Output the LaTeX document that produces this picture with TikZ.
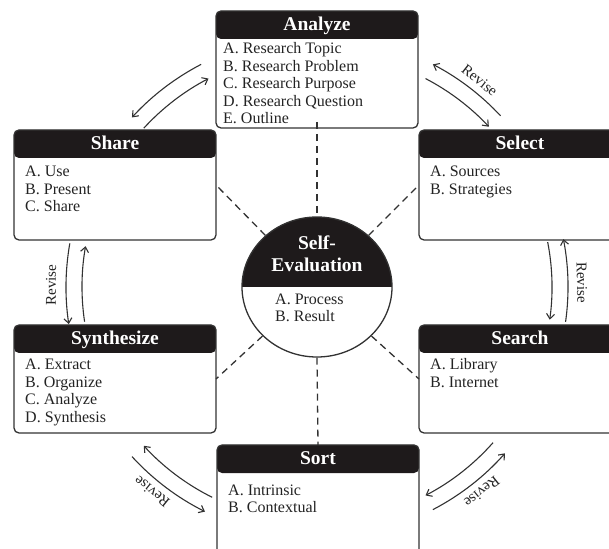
\documentclass[tikz,border=0pt]{standalone}
\usepackage{fontspec}
\setmainfont{Liberation Serif}
\usetikzlibrary{arrows.meta,shapes.geometric}
\definecolor{hdr}{RGB}{30,26,27}
\definecolor{edgec}{RGB}{50,50,50}
\definecolor{txt}{RGB}{35,35,35}
\begin{document}
\begin{tikzpicture}[x=1pt,y=1pt,
 box/.style={draw=edgec, line width=1.3pt, rounded corners=5pt, minimum width=202pt, inner sep=0pt, outer sep=0pt,
   path picture={\fill[hdr] ([yshift=2pt]path picture bounding box.north west) rectangle ([yshift=-28pt]path picture bounding box.north east);}},
 hdrtext/.style={text=white, font=\fontsize{19.5}{22}\selectfont\bfseries, anchor=base, inner sep=0pt, align=center},
 body/.style={text=txt, font=\fontsize{16}{17.5}\selectfont, anchor=base west, align=left, inner sep=0pt},
 arr/.style={draw=edgec, line width=1.1pt, -{Straight Barb[length=5pt,width=8pt]}},
 dline/.style={draw=edgec, line width=1.3pt, dash pattern=on 7pt off 5pt},
 rev/.style={text=txt, font=\fontsize{15}{15}\selectfont, inner sep=0pt}]
\useasboundingbox (0,0) rectangle (609,548);
\clip (0,0) rectangle (609,548);

\coordinate (c) at (317,261);

% boxes
\node[box, minimum height=117pt] (ana) at (317,478.5) {};
\node[box, minimum height=110pt] (share) at (115,363) {};
\node[box, minimum height=110pt] (select) at (520,363) {};
\node[box, minimum height=108pt] (synth) at (115,169) {};
\node[box, minimum height=108pt] (search) at (520,169) {};
\node[box, minimum height=110pt] (sort) at (318,48) {};

% headers
\node[hdrtext] (anah) at ([yshift=-20pt]ana.north) {Analyze};
\node[hdrtext] (shareh) at ([yshift=-20pt]share.north) {Share};
\node[hdrtext] (selecth) at ([yshift=-20pt]select.north) {Select};
\node[hdrtext] (synthh) at ([yshift=-20pt]synth.north) {Synthesize};
\node[hdrtext] (searchh) at ([yshift=-20pt]search.north) {Search};
\node[hdrtext] (sorth) at ([yshift=-20pt]sort.north) {Sort};

% bodies (anchor = baseline of the last line)
\node[body] (anab) at (223,424) {A. Research Topic\\B. Research Problem\\C. Research Purpose\\D. Research Question\\E. Outline};
\node[body] (shareb) at (25,336.3) {A. Use\\B. Present\\C. Share};
\node[body] (selectb) at (430,353.8) {A. Sources\\B. Strategies};
\node[body] (synthb) at (25,125.5) {A. Extract\\B. Organize\\C. Analyze\\D. Synthesis};
\node[body] (searchb) at (430,160.5) {A. Library\\B. Internet};
\node[body] (sortb) at (228,35.5) {A. Intrinsic\\B. Contextual};

% self-evaluation
\node[draw=edgec, line width=1.3pt, ellipse, minimum width=150pt, minimum height=140pt, inner sep=0pt,
  path picture={\fill[hdr] (path picture bounding box.west) rectangle (path picture bounding box.north east);}] (ell) at (c) {};
\node[hdrtext] (ellh) at (317,276) {Self-\\Evaluation};
\node[body, font=\fontsize{16}{17}\selectfont] (ellb) at (275,226) {A. Process\\B. Result};

% dashed links
\draw[dline] ([yshift=6pt]ana.south) -- (ell.north);
\draw[dline] (ell.south) -- (sort.north);
\draw[dline] (ell.135) -- (share.east);
\draw[dline] (ell.45) -- (select.west);
\draw[dline] (ell.222) -- (synth.east);
\draw[dline] (ell.-42) -- (search.west);

% cycle arrows (inner, clockwise) and revise arrows (outer, counter-clockwise)
\draw[arr] ([shift={(137.5:235)}]c) arc[start angle=137.5, end angle=117.5, radius=235];
\draw[arr] ([shift={(117.5:251)}]c) arc[start angle=117.5, end angle=137.5, radius=251];

\draw[arr] ([shift={(62.5:235)}]c) arc[start angle=62.5, end angle=43, radius=235];
\draw[arr] ([shift={(43:251)}]c) arc[start angle=43, end angle=62.5, radius=251];
\node[rev, rotate=-38.2] (r1) at ([shift={(51.8:263)}]c) {Revise};

\draw[arr] ([shift={(11:235)}]c) arc[start angle=11, end angle=-8, radius=235];
\draw[arr] ([shift={(-8:251)}]c) arc[start angle=-8, end angle=11, radius=251];
\node[rev, rotate=-89] (r2) at ([shift={(1:265)}]c) {Revise};

\draw[arr] ([shift={(-41.5:235)}]c) arc[start angle=-41.5, end angle=-62.5, radius=235];
\draw[arr] ([shift={(-62.5:251)}]c) arc[start angle=-62.5, end angle=-41.5, radius=251];
\node[rev, rotate=-141.2] (r3) at ([shift={(-51.2:263)}]c) {Revise};

\draw[arr] ([shift={(243.5:235)}]c) arc[start angle=243.5, end angle=222.5, radius=235];
\draw[arr] ([shift={(222.5:251)}]c) arc[start angle=222.5, end angle=243.5, radius=251];
\node[rev, rotate=141.1] (r4) at ([shift={(231.1:263)}]c) {Revise};

\draw[arr] ([shift={(188.5:235)}]c) arc[start angle=188.5, end angle=170, radius=235];
\draw[arr] ([shift={(170:251)}]c) arc[start angle=170, end angle=188.5, radius=251];
\node[rev, rotate=89.6] (r5) at ([shift={(179.6:266)}]c) {Revise};
\end{tikzpicture}
\end{document}
